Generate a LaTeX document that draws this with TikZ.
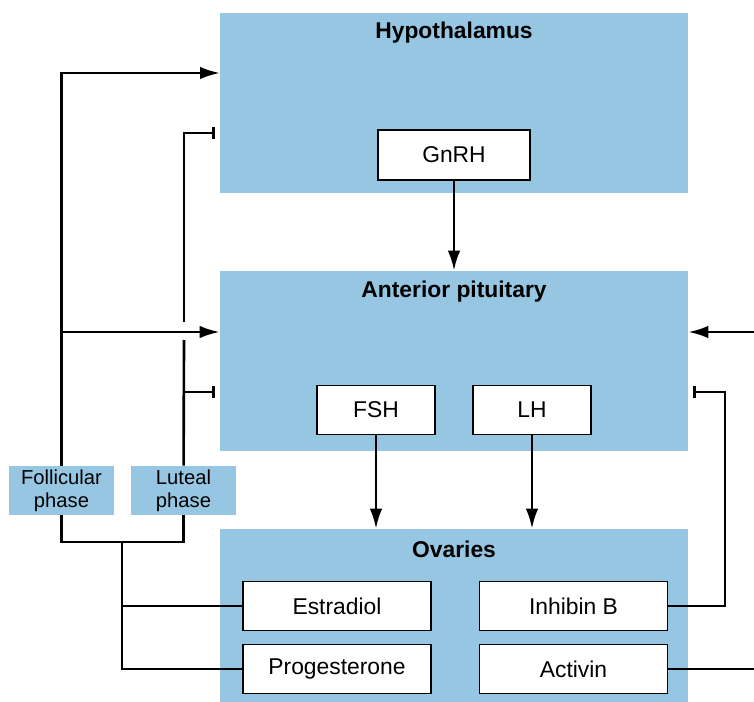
\documentclass[tikz,border=0pt]{standalone}
\usepackage{fontspec}
\setmainfont{Liberation Sans}
\usetikzlibrary{arrows.meta}

\definecolor{organblue}{RGB}{150,198,226}

\tikzset{
  organ/.style={fill=organblue, draw=none, inner sep=0pt},
  hormone/.style={draw, fill=white, line width=1.1pt, inner sep=0pt, minimum width=3.76cm, minimum height=0.98cm},
  phasebox/.style={fill=organblue, inner sep=0pt, minimum width=2.1cm, minimum height=0.98cm, align=center, font=\fontsize{11.5}{13}\selectfont},
  title/.style={font=\fontsize{13}{15}\selectfont\bfseries},
  arr/.style={-{Latex[length=0.4cm, width=0.25cm]}, line width=1.5pt},
  inh/.style={-{Bar[width=0.25cm]}, line width=1.5pt},
  link/.style={line width=1.5pt}
}

\begin{document}
\begin{tikzpicture}[x=0.02cm, y=-0.02cm, font=\fontsize{13}{15}\selectfont]
            \useasboundingbox (0,0) rectangle (754,702);

            % organs
            \node[organ, minimum width=9.36cm, minimum height=3.6cm] (hyp) at (454,103) {};
            \node[organ, minimum width=9.36cm, minimum height=3.6cm] (pit) at (454,361) {};
            \node[organ, minimum width=9.36cm, minimum height=3.46cm] (ova) at (454,615.5) {};
            \node[title] (hyptitle) at (454,33) {Hypothalamus};
            \node[title] (pittitle) at (454,292) {Anterior pituitary};
            \node[title] (ovatitle) at (454,549) {Ovaries};

            % hormones
            \node[hormone, minimum width=3.04cm, minimum height=1cm] (gnrh) at (454,155) {GnRH};
            \node[hormone, minimum width=2.36cm] (fsh) at (376,410) {FSH};
            \node[hormone, minimum width=2.36cm] (lh) at (532,410) {LH};
            \node[hormone] (estr) at (337,606) {Estradiol};
            \node[hormone] (prog) at (337,669) {Progesterone};
            \node[hormone] (inhb) at (573.5,606) {Inhibin B};
            \node[hormone] (actv) at (573.5,669) {Activin};

            % phases
            \node[phasebox] (foll) at (61.5,490.5) {Follicular\\phase};
            \node[phasebox] (lut) at (183.5,490.5) {Luteal\\phase};

            \coordinate (hypin) at (220,73);
            \coordinate (fj) at (61,332);
            \coordinate (lgapa) at (184,340);
            \coordinate (lgapb) at (184,322);
            \coordinate (lj) at (184,392);
            \coordinate (hypbar) at (215,133);
            \coordinate (pitbar) at (215,392);
            \coordinate (pj) at (122,542);
            \coordinate (rin) at (754,332);
            \coordinate (rbar) at (693,392);
            \coordinate (rturn) at (725,392);
            \coordinate (rout) at (754,669);

            \draw[arr] (gnrh) -- (pit);
            \draw[arr] (fsh) -- (ova.north -| fsh);
            \draw[arr] (lh) -- (ova.north -| lh);

            \draw[arr] (foll) |- (hypin);
            \draw[arr] (fj) -- (pit.west |- fj);
            \draw[link] (lut) -- (lgapa);
            \draw[inh] (lgapb) |- (hypbar);
            \draw[inh] (lj) -- (pitbar);

            \draw[link] (foll.south) |- (pj) -| (lut.south);
            \draw[link] (pj) |- (prog.west);
            \draw[link, line width=1.2pt] (pj |- estr.west) -- (estr.west);

            \draw[arr] (rin) -- (pit.east |- rin);
            \draw[inh] (inhb.east) -| (rturn) -- (rbar);
            \draw[link, line width=1.2pt] (actv.east) -- (rout);
        \end{tikzpicture}
\end{document}
